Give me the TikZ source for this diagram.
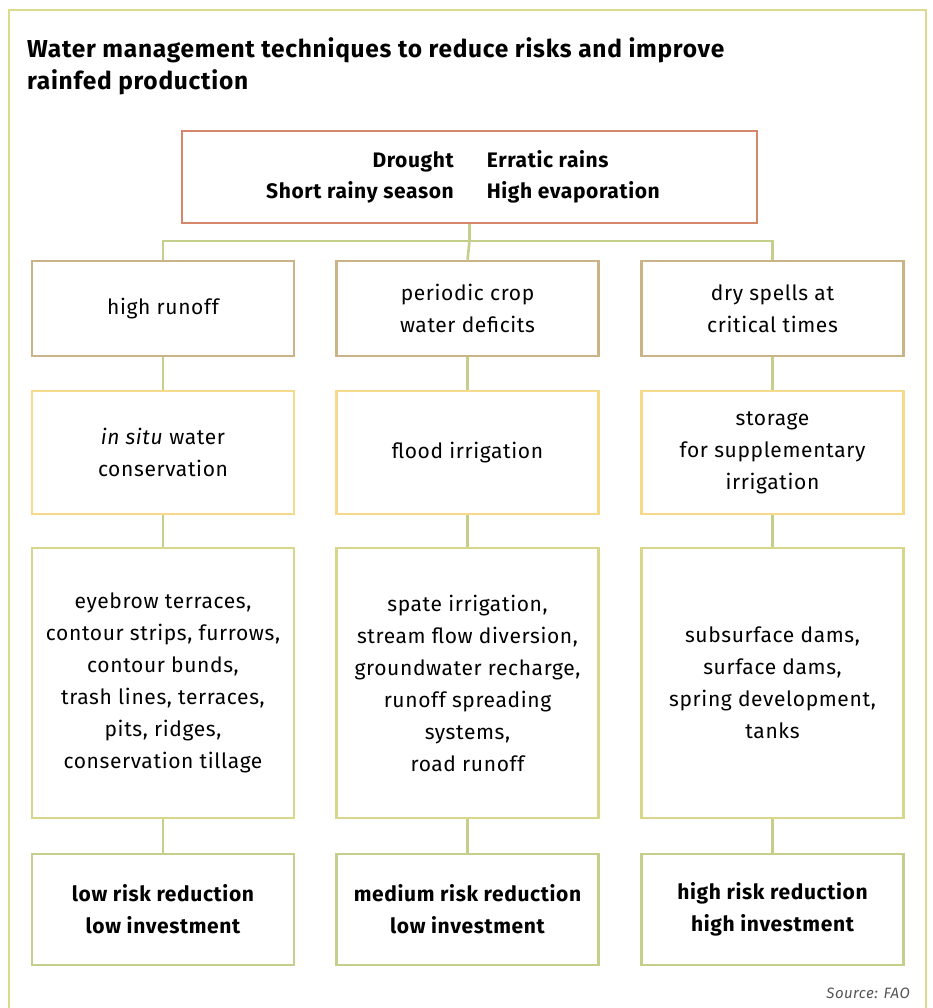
\documentclass[tikz,border=0pt]{standalone}
\usepackage{fontspec}
\setmainfont[LetterSpace=3]{Fira Sans}
\definecolor{framec}{HTML}{DCDA8C}
\definecolor{topc}{HTML}{D4876A}
\definecolor{rowA}{HTML}{C9B387}
\definecolor{rowB}{HTML}{F6D98A}
\definecolor{rowC}{HTML}{D8D68A}
\definecolor{rowD}{HTML}{C6CE8C}
\definecolor{linkc}{HTML}{C6CE8C}
\definecolor{srcc}{HTML}{555555}
\begin{document}
\begin{tikzpicture}[x=1pt,y=-1pt,
  box/.style={draw, line width=2.6pt, fill=white, rectangle, inner sep=0pt,
    align=center, font=\fontsize{21}{32}\selectfont},
  boxA/.style={box, draw=rowA, minimum width=262pt, minimum height=95pt},
  boxB/.style={box, draw=rowB, minimum width=262pt, minimum height=123pt},
  boxC/.style={box, draw=rowC, minimum width=262pt, minimum height=270pt},
  boxD/.style={box, draw=rowD, minimum width=262pt, minimum height=111pt,
    font=\fontsize{21}{32}\selectfont\bfseries},
  link/.style={draw=linkc, line width=2.6pt}]
\useasboundingbox (0,0) rectangle (932,1008);
% outer frame
\draw[draw=framec, line width=2.6pt] (9,1010) -- (9,10) -- (926,10) -- (926,1010);
% title
\node[anchor=north west, inner sep=0pt, align=left,
  font=\fontsize{24.5}{32}\selectfont\bfseries] (title) at (27,37)
  {Water management techniques to reduce risks and improve\\rainfed production};
% top box
\node[draw=topc, line width=2.6pt, rectangle, minimum width=575pt, minimum height=92pt,
  inner sep=0pt, font=\fontsize{21}{31}\selectfont\bfseries] (top) at (469.5,177)
  {\raisebox{-2pt}{\begin{tabular}{@{}r@{\hspace{33pt}}l@{}}Drought & Erratic rains\\ Short rainy season & High evaporation\end{tabular}}\hspace*{13pt}};
% row 1
\node[boxA] (a1) at (163,308.5) {high runoff};
\node[boxA] (b1) at (467.5,308.5) {periodic crop\\water deficits};
\node[boxA] (c1) at (772.5,308.5) {dry spells at\\critical times};
% row 2
\node[boxB] (a2) at (163,452.5) {\textit{in situ} water\\conservation};
\node[boxB] (b2) at (467.5,452.5) {flood irrigation};
\node[boxB] (c2) at (772.5,452.5) {storage\\for supplementary\\irrigation};
% row 3
\node[boxC] (a3) at (163,683) {eyebrow terraces,\\contour strips, furrows,\\contour bunds,\\trash lines, terraces,\\pits, ridges,\\conservation tillage};
\node[boxC] (b3) at (467.5,683) {spate irrigation,\\stream flow diversion,\\groundwater recharge,\\runoff spreading\\systems,\\road runoff};
\node[boxC] (c3) at (772.5,683) {subsurface dams,\\surface dams,\\spring development,\\tanks};
% row 4
\node[boxD] (a4) at (163,909.5) {low risk reduction\\low investment};
\node[boxD] (b4) at (467.5,909.5) {medium risk reduction\\low investment};
\node[boxD] (c4) at (772.5,909.5) {high risk reduction\\high investment};
% source
\node[anchor=east, inner sep=0pt, text=srcc, font=\fontsize{15}{16}\selectfont\itshape\mdseries] (src) at (910,993) {Source: FAO};
% connectors
\coordinate (hub) at (top.south |- 0,241);
\draw[link] (top.south) -- (hub);
\draw[link] (a1.north) -- (a1.north |- hub) -- (c1.north |- hub) -- (c1.north);
\draw[link] (hub) -- (b1.north);
\foreach \c in {a,b,c}{
  \draw[link] (\c1.south) -- (\c2.north);
  \draw[link] (\c2.south) -- (\c3.north);
  \draw[link] (\c3.south) -- (\c4.north);
}
\end{tikzpicture}
\end{document}
